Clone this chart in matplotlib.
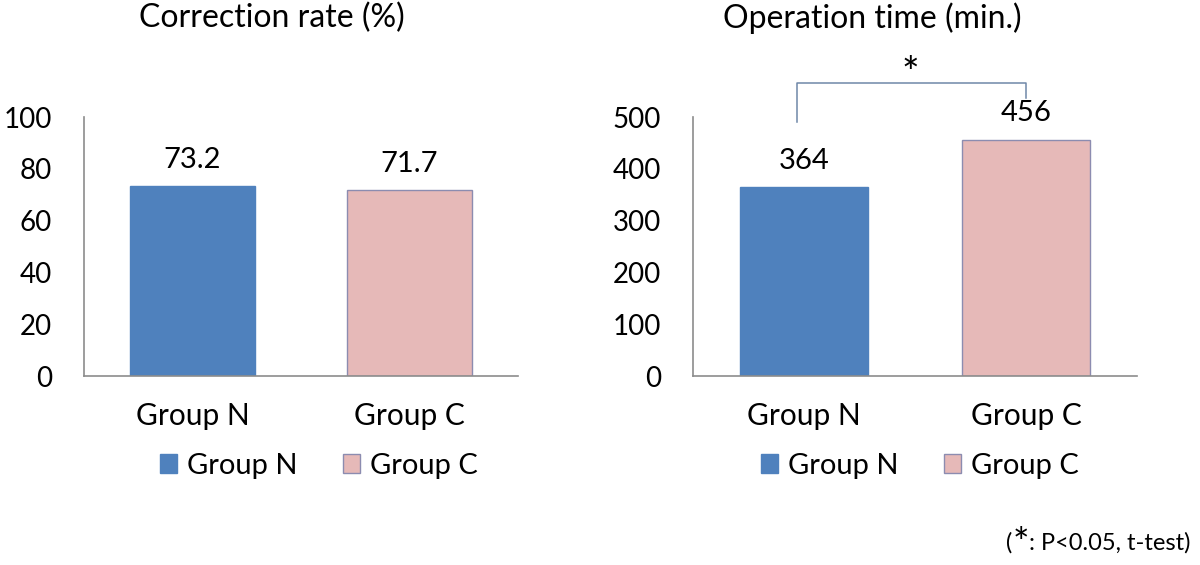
import matplotlib.pyplot as plt
from matplotlib.patches import Patch

groups = ["Group N", "Group C"]
correction_rate = [73.2, 71.7]
operation_time = [364, 456]
colors = ["#4F81BD", "#E6B9B8"]
edges = ["#4F81BD", "#8C8CB0"]

plt.rcParams['font.family'] = ['Lato', 'DejaVu Sans']

fig = plt.figure(figsize=(12, 5.65), dpi=100)
ax1 = fig.add_axes([0.07, 0.3345, 0.3617, 0.4584])
ax2 = fig.add_axes([0.5775, 0.3345, 0.37, 0.4584])


def panel(ax, vals, ymax, step):
    x = range(len(groups))
    ax.bar(x, vals, width=0.58, color=colors, edgecolor=edges, linewidth=1)
    for i, v in enumerate(vals):
        ax.annotate(f"{v}", (i, v), xytext=(0, 19), textcoords="offset points",
                    ha="center", va="center", fontsize=21)
    ax.set_xlim(-0.5, 1.5)
    ax.set_ylim(0, ymax)
    ax.set_yticks(range(0, ymax + 1, step))
    ax.set_xticks(list(x))
    ax.set_xticklabels(groups)
    ax.tick_params(axis="y", length=0, pad=23, labelsize=20)
    ax.tick_params(axis="x", length=0, pad=19, labelsize=21.5)
    for s in ["top", "right"]:
        ax.spines[s].set_visible(False)
    for s in ["left", "bottom"]:
        ax.spines[s].set_color("#8C8C8C")
        ax.spines[s].set_linewidth(1.2)


panel(ax1, correction_rate, 100, 20)
panel(ax2, operation_time, 500, 100)

fig.text(272 / 1200, 1 - 18 / 565, "Correction rate (%)", ha="center", va="center", fontsize=23)
fig.text(872 / 1200, 1 - 18 / 565, "Operation time (min.)", ha="center", va="center", fontsize=23)

# significance bracket
ax2.plot([-0.03, -0.03, 1.0, 1.0], [490, 566, 566, 537], color="#6F87A8",
         linewidth=1.1, clip_on=False)
ax2.text(0.48, 582, "*", ha="center", va="center", fontsize=30, clip_on=False)

handles = [Patch(facecolor=c, edgecolor=e) for c, e in zip(colors, edges)]
for cx in [319 / 1200, 920 / 1200]:
    fig.legend(handles, groups, loc="center", bbox_to_anchor=(cx, 1 - 466 / 565),
               ncol=2, frameon=False, fontsize=21, handlelength=0.6, handleheight=0.6,
               handletextpad=0.34, columnspacing=1.55)

# footnote: "(*: P<0.05, t-test)" with a big star
fig.canvas.draw()
r = fig.canvas.get_renderer()
yb = 1 - 543 / 565
t3 = fig.text(0.992, yb, ": P<0.05, t-test)", ha="right", va="center", fontsize=17)
x3 = t3.get_window_extent(r).x0 / fig.bbox.width
t2 = fig.text(x3, yb - 0.004, "*", ha="right", va="center", fontsize=28)
x2 = t2.get_window_extent(r).x0 / fig.bbox.width
fig.text(x2, yb, "(", ha="right", va="center", fontsize=17)

fig.savefig("out.png", dpi=100)
